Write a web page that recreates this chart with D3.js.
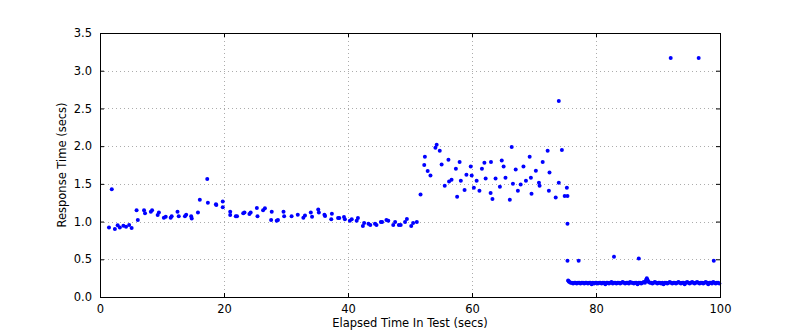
<!DOCTYPE html>
<html>
<head>
<meta charset="utf-8">
<script src="https://cdn.jsdelivr.net/npm/d3@7"></script>
<style>
  html, body { margin: 0; padding: 0; background: #fff; }
  svg { display: block; }
  text { font-family: "DejaVu Sans", sans-serif; fill: #000; }
</style>
</head>
<body>
<svg id="chart" width="800" height="330"></svg>
<script>
// Sampled requests during the ramp-up and mixed-load phases: elapsed time (s) and response time (s)
const elapsed = [
  1.45, 1.9, 2.4, 2.85, 3.2, 3.77, 4.2, 4.7, 5.1, 5.9, 6.1, 7.1, 7.26, 8.2, 8.4, 9.3, 9.5,
  10.3, 10.6, 11.4, 11.56, 12.5, 12.7, 13.7, 13.9, 14.7, 14.8, 15.8, 16.1, 17.3, 17.4,
  18.7, 18.76, 19.8, 19.8, 21.0, 21.0, 21.9, 22.1, 23.1, 23.3, 24.1, 24.3, 25.3, 25.4,
  26.3, 26.6, 27.6, 27.7, 28.5, 28.7, 29.6, 29.7, 30.9, 31.9, 32.8, 33.06, 34.0, 34.2,
  35.2, 35.3, 36.2, 36.3, 37.3, 37.4, 38.4, 38.6, 39.35, 39.5, 40.3, 40.6, 41.4, 41.6,
  42.4, 42.6, 43.3, 43.6, 44.35, 44.6, 45.3, 45.5, 46.2, 46.5, 47.3, 47.6, 48.2, 48.5,
  49.2, 49.5, 50.2, 50.5, 51.1, 51.7, 52.3, 52.4, 52.85, 53.3, 54.1, 54.3, 54.8, 55.1,
  55.6, 56.2, 56.3, 56.7, 57.4, 57.6, 58.0, 58.2, 58.8, 59.1, 59.8, 59.95, 60.3, 60.75,
  61.2, 61.6, 62.0, 62.2, 63.0, 63.06, 63.3, 63.8, 64.5, 64.8, 65.1, 65.4, 66.1, 66.4,
  66.6, 67.05, 67.4, 67.85, 68.3, 68.7, 69.3, 69.5, 69.6, 70.3, 70.8, 70.9, 71.4, 72.2,
  72.4, 72.5, 73.5, 74.0, 74.0, 74.5, 74.95, 75.3, 75.4, 75.4, 75.4, 77.2, 82.9, 86.9,
  92.05, 96.56, 99.0
];
const response = [
  0.92, 1.43, 0.90, 0.95, 0.92, 0.945, 0.93, 0.955, 0.915, 1.15, 1.02, 1.15, 1.11, 1.13, 1.15, 1.087, 1.12,
  1.05, 1.065, 1.05, 1.07, 1.13, 1.07, 1.07, 1.09, 1.07, 1.04, 1.12, 1.29, 1.565, 1.25,
  1.23, 1.22, 1.265, 1.19, 1.13, 1.087, 1.07, 1.07, 1.11, 1.12, 1.10, 1.12, 1.18, 1.07,
  1.15, 1.175, 1.02, 1.13, 1.01, 1.02, 1.13, 1.07, 1.07, 1.09, 1.05, 1.08, 1.12, 1.065,
  1.16, 1.12, 1.09, 1.075, 1.03, 1.105, 1.047, 1.047, 1.06, 1.03, 1.01, 1.03, 1.01, 1.047,
  0.94, 0.98, 0.97, 0.955, 0.97, 0.955, 0.995, 0.995, 1.02, 1.01, 0.955, 0.995, 0.955, 0.955,
  0.995, 1.035, 0.94, 0.98, 0.995, 1.36, 1.75, 1.86, 1.67, 1.61, 1.98, 2.02, 1.94, 1.755,
  1.475, 1.82, 1.53, 1.555, 1.70, 1.33, 1.79, 1.54, 1.42, 1.62, 1.73, 1.61, 1.45, 1.54,
  1.41, 1.70, 1.78, 1.57, 1.38, 1.79, 1.30, 1.57, 1.46, 1.81, 1.73, 1.58, 1.29, 1.99,
  1.50, 1.69, 1.41, 1.49, 1.73, 1.54, 1.86, 1.58, 1.37, 1.675, 1.515, 1.475, 1.79, 1.94,
  1.41, 1.65, 1.32, 1.515, 2.60, 1.95, 1.34, 1.45, 1.34, 0.97, 0.48, 0.48, 0.535, 0.51,
  3.17, 3.17, 0.48
];

// Steady-state requests after the cache warms up
const steadyElapsed = [
  75.5, 75.6, 75.7, 75.9, 76.1, 76.3, 76.5, 76.7, 76.9, 77.1, 77.3, 77.5, 77.7, 77.9,
  78.1, 78.3, 78.5, 78.7, 78.9, 79.1, 79.3, 79.5, 79.7, 79.9, 80.1, 80.3, 80.5, 80.7,
  80.9, 81.1, 81.3, 81.5, 81.7, 81.9, 82.1, 82.3, 82.5, 82.7, 82.9, 83.1, 83.3, 83.5,
  83.7, 83.9, 84.1, 84.3, 84.5, 84.7, 84.9, 85.1, 85.3, 85.5, 85.7, 85.9, 86.1, 86.3,
  86.5, 86.7, 86.9, 87.1, 87.3, 87.5, 87.7, 87.9, 88.0, 88.1, 88.2, 88.3, 88.4, 88.5,
  88.7, 88.9, 89.1, 89.3, 89.5, 89.7, 89.9, 90.1, 90.3, 90.5, 90.7, 90.9, 91.1, 91.3,
  91.5, 91.7, 91.9, 92.1, 92.3, 92.5, 92.7, 92.9, 93.1, 93.3, 93.5, 93.7, 93.9, 94.1,
  94.3, 94.5, 94.7, 94.9, 95.1, 95.3, 95.5, 95.7, 95.9, 96.1, 96.3, 96.5, 96.7, 96.9,
  97.1, 97.3, 97.5, 97.7, 97.9, 98.1, 98.3, 98.5, 98.7, 98.9, 99.1, 99.3, 99.5, 99.7, 99.9
];
const steadyResponse = [
  0.22, 0.21, 0.20, 0.19, 0.19, 0.18, 0.19, 0.19, 0.18, 0.19, 0.19, 0.18, 0.19, 0.19,
  0.18, 0.19, 0.19, 0.18, 0.19, 0.19, 0.17, 0.19, 0.18, 0.19, 0.19, 0.18, 0.19, 0.19,
  0.18, 0.19, 0.19, 0.17, 0.19, 0.19, 0.18, 0.19, 0.20, 0.18, 0.19, 0.19, 0.18, 0.19,
  0.19, 0.18, 0.19, 0.20, 0.19, 0.18, 0.19, 0.19, 0.18, 0.20, 0.19, 0.19, 0.18, 0.19,
  0.19, 0.17, 0.19, 0.19, 0.18, 0.19, 0.20, 0.19, 0.21, 0.23, 0.25, 0.23, 0.21, 0.20,
  0.19, 0.19, 0.18, 0.19, 0.20, 0.19, 0.18, 0.19, 0.19, 0.18, 0.19, 0.17, 0.19, 0.19,
  0.18, 0.19, 0.20, 0.19, 0.18, 0.19, 0.19, 0.18, 0.19, 0.20, 0.19, 0.18, 0.19, 0.19,
  0.17, 0.19, 0.20, 0.19, 0.18, 0.19, 0.20, 0.19, 0.18, 0.19, 0.20, 0.19, 0.18, 0.19,
  0.19, 0.18, 0.19, 0.20, 0.19, 0.17, 0.19, 0.19, 0.18, 0.20, 0.19, 0.18, 0.19, 0.19, 0.18
];

const xTicks = [0, 20, 40, 60, 80, 100];
const yTicks = [0.0, 0.5, 1.0, 1.5, 2.0, 2.5, 3.0, 3.5];
const xTitle = "Elapsed Time In Test (secs)";
const yTitle = "Response Time (secs)";

const W = 800, H = 330;
const margin = { top: 33, right: 80, bottom: 33, left: 100 };
const iw = W - margin.left - margin.right;
const ih = H - margin.top - margin.bottom;

const svg = d3.select("#chart");
const g = svg.append("g").attr("transform", `translate(${margin.left},${margin.top})`);

const x = d3.scaleLinear().domain([0, 100]).range([0, iw]);
const y = d3.scaleLinear().domain([0, 3.5]).range([ih, 0]);

// Dotted grid
const grid = g.append("g").attr("stroke", "#000").attr("stroke-opacity", 0.55)
  .attr("stroke-width", 0.6).attr("stroke-dasharray", "1,3");
grid.selectAll("line.gx").data(xTicks.slice(1, -1)).join("line")
  .attr("x1", d => Math.round(x(d)) + 0.5).attr("x2", d => Math.round(x(d)) + 0.5)
  .attr("y1", 0).attr("y2", ih);
grid.selectAll("line.gy").data(yTicks.slice(1, -1)).join("line")
  .attr("y1", d => Math.round(y(d)) + 0.5).attr("y2", d => Math.round(y(d)) + 0.5)
  .attr("x1", 0).attr("x2", iw);

// Points
const pts = elapsed.map((e, i) => [e, response[i]])
  .concat(steadyElapsed.map((e, i) => [e, steadyResponse[i]]));
g.append("g").attr("fill", "#0000ff")
  .selectAll("circle").data(pts).join("circle")
  .attr("cx", d => x(d[0])).attr("cy", d => y(d[1])).attr("r", 2);

// Axes with inward ticks on all four sides
const tickFmtY = d3.format(".1f");
const axB = g.append("g").attr("transform", `translate(0,${ih})`)
  .call(d3.axisBottom(x).tickValues(xTicks).tickSizeInner(-4).tickSizeOuter(0).tickPadding(8));
const axT = g.append("g")
  .call(d3.axisTop(x).tickValues(xTicks).tickSizeInner(-4).tickSizeOuter(0).tickFormat(""));
const axL = g.append("g")
  .call(d3.axisLeft(y).tickValues(yTicks).tickFormat(tickFmtY).tickSizeInner(-4).tickSizeOuter(0).tickPadding(8));
const axR = g.append("g").attr("transform", `translate(${iw},0)`)
  .call(d3.axisRight(y).tickValues(yTicks).tickSizeInner(-4).tickSizeOuter(0).tickFormat(""));
[axB, axT, axL, axR].forEach(a => {
  a.selectAll("path.domain").remove();
  a.selectAll("text").attr("font-size", 11.5).attr("font-family", "DejaVu Sans, sans-serif");
  a.selectAll(".tick line").attr("stroke", "#000");
});

// Frame
g.append("rect").attr("x", 0.5).attr("y", 0.5).attr("width", iw).attr("height", ih)
  .attr("fill", "none").attr("stroke", "#000").attr("stroke-width", 1);

// Titles
svg.append("text").attr("x", margin.left + iw / 2).attr("y", 327)
  .attr("text-anchor", "middle").attr("font-size", 11.5).text(xTitle);
svg.append("text").attr("transform", `translate(66,${margin.top + ih / 2}) rotate(-90)`)
  .attr("text-anchor", "middle").attr("font-size", 11.5).text(yTitle);
</script>
</body>
</html>
